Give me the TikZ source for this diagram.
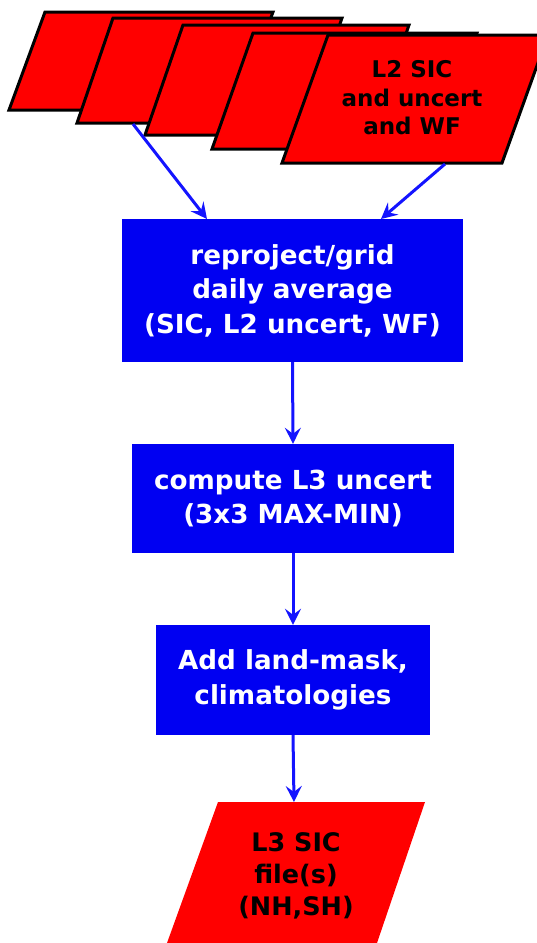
\documentclass[tikz,border=0pt]{standalone}
\usepackage{fontspec}
\setmainfont{DejaVu Sans}
\usetikzlibrary{arrows.meta}
\definecolor{boxblue}{RGB}{0,0,242}
\definecolor{arrowblue}{RGB}{20,20,255}
\definecolor{sheetred}{RGB}{255,0,0}
\begin{document}
\begin{tikzpicture}[x=1pt,y=-1pt,
  sheet/.style={draw=black, line width=3pt, fill=sheetred, line join=miter},
  procbox/.style={rectangle, fill=boxblue, text=white, inner sep=0pt,
    font=\bfseries\fontsize{26.2}{34.5}\selectfont, align=center},
  sheettext/.style={text=black, inner sep=0pt, align=center,
    font=\bfseries\fontsize{23}{28.5}\selectfont},
  outtext/.style={text=black, inner sep=0pt, align=center,
    font=\bfseries\fontsize{25.5}{32}\selectfont},
  flow/.style={draw=arrowblue, line width=3pt,
    -{Stealth[length=16pt,width=16pt,inset=6pt]}}]
\useasboundingbox (0,0) rectangle (537,943);
\clip (0,0) rectangle (537,943);
\fill[white] (0,0) rectangle (537,943);

% stacked input sheets
\draw[sheet] (45,12) -- (273,12) -- (237,110) -- (9,110) -- cycle;
\draw[sheet] (113,18) -- (342,18) -- (306,123) -- (77,123) -- cycle;
\draw[sheet] (183,25) -- (409,25) -- (371,135) -- (145,135) -- cycle;
\draw[sheet] (253,33) -- (477,33) -- (436,149) -- (212,149) -- cycle;
\draw[sheet] (328,35) -- (548,35) -- (502,163) -- (282,163) -- cycle;
\node[sheettext] (l2) at (412,98) {L2 SIC\\and uncert\\and WF};

\coordinate (s2) at (133,124);
\coordinate (s5) at (445,164);
\coordinate (t1) at (207,219);
\coordinate (t2) at (381,219);

% process boxes
\node[procbox, minimum width=341pt, minimum height=143pt] (grid) at (292.5,290.5)
  {reproject/grid\\daily average\\(SIC, L2 uncert, WF)};
\node[procbox, minimum width=322pt, minimum height=109pt] (unc) at (293,498.5)
  {compute L3 uncert\\(3x3 MAX-MIN)};
\node[procbox, minimum width=274pt, minimum height=110pt] (mask) at (293,680)
  {Add land-mask,\\climatologies};

% output sheet
\fill[sheetred] (218,802) -- (425,802) -- (377,943) -- (167,943) -- cycle;
\coordinate (l3top) at (294,802);
\node[outtext] (l3) at (296,876) {L3 SIC\\file(s)\\(NH,SH)};

% connectors
\draw[flow] (s2) -- (t1);
\draw[flow] (s5) -- (t2);
\draw[flow] (grid.south) -- (unc.north);
\draw[flow] (unc.south) -- (mask.north);
\draw[flow] (mask.south) -- (l3top);
\end{tikzpicture}
\end{document}
